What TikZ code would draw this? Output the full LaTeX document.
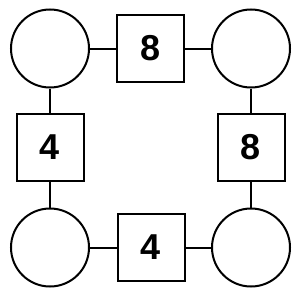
\documentclass[tikz,border=0pt]{standalone}
\usepackage{fontspec}
\setmainfont{Liberation Sans}
\begin{document}
\begin{tikzpicture}[x=1pt,y=-1pt,
  ln/.style={line width=2pt},
  circ/.style={ln,draw,circle,minimum size=78pt,inner sep=0pt},
  sq/.style={ln,draw,rectangle,minimum size=67pt,inner sep=0pt,font=\fontsize{36}{42}\selectfont\bfseries}]
\useasboundingbox (0,0) rectangle (300,300);
\node[circ] (c1) at (50,48.5) {};
\node[circ] (c2) at (251,48.5) {};
\node[circ] (c3) at (50,247.5) {};
\node[circ] (c4) at (251,247.5) {};
\node[sq] (s1) at (150.5,48.5) {8};
\node[sq] (s2) at (50,147) {4};
\node[sq] (s3) at (251,147) {8};
\node[sq] (s4) at (151,247.5) {4};
\draw[ln] (c1) -- (s1);
\draw[ln] (s1) -- (c2);
\draw[ln] (c1) -- (s2);
\draw[ln] (s2) -- (c3);
\draw[ln] (c2) -- (s3);
\draw[ln] (s3) -- (c4);
\draw[ln] (c3) -- (s4);
\draw[ln] (s4) -- (c4);
\end{tikzpicture}
\end{document}
